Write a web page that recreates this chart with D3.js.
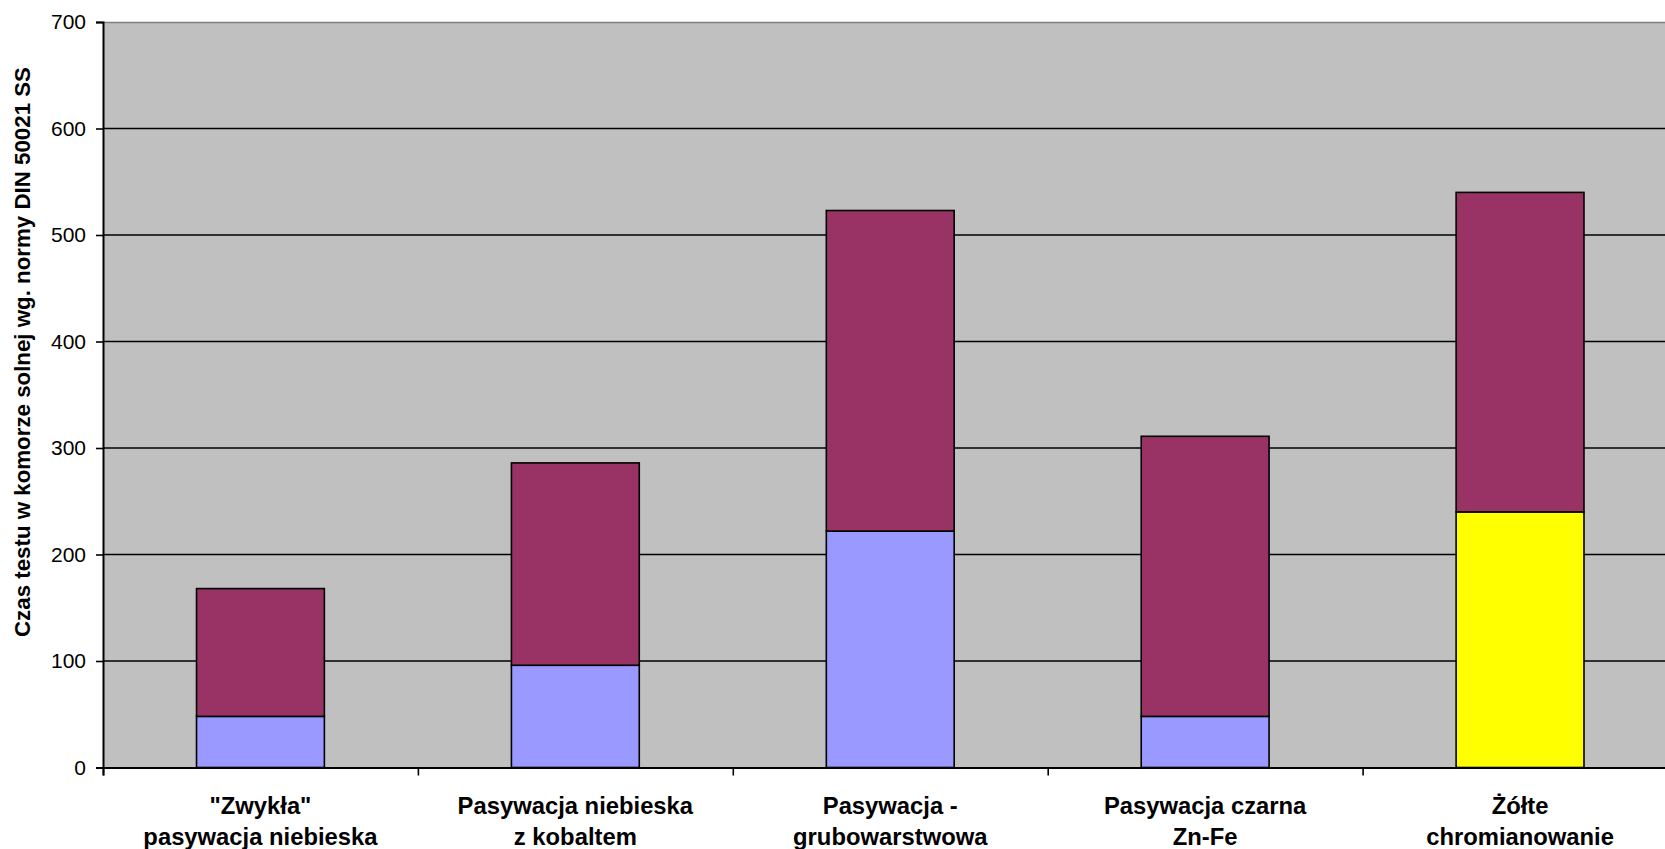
<!DOCTYPE html>
<html lang="pl">
<head>
<meta charset="utf-8">
<script src="https://cdn.jsdelivr.net/npm/d3@7"></script>
<style>
  html, body { margin: 0; padding: 0; background: #ffffff; }
  svg { display: block; font-family: "Liberation Sans", Arial, sans-serif; }
</style>
</head>
<body>
<svg id="chart" width="1665" height="849"></svg>
<script>
// Coating types (two-line category labels)
const categories = [
  ['"Zwykła"', 'pasywacja niebieska'],
  ['Pasywacja niebieska', 'z kobaltem'],
  ['Pasywacja -', 'grubowarstwowa'],
  ['Pasywacja czarna', 'Zn-Fe'],
  ['Żółte', 'chromianowanie']
];
// Hours until first corrosion of the coating, and further hours until red rust
const coatingHours = [48, 96, 222, 48, 240];
const zincHours = [120, 190, 301, 263, 300];
const yTicks = [0, 100, 200, 300, 400, 500, 600, 700];
const yTitle = "Czas testu w komorze solnej wg. normy DIN 50021 SS";

// Fill colours
const coatingFill = ["#9999FF", "#9999FF", "#9999FF", "#9999FF", "#FFFF00"];
const zincFill = "#993366";

const svg = d3.select("#chart");
const margin = { left: 103, top: 22 };
const plotW = 1574.5, plotH = 745.5;

const rows = categories.map((c, i) => ({ idx: i, coating: coatingHours[i], zinc: zincHours[i] }));
const stacked = d3.stack().keys(["coating", "zinc"])(rows);

const x = d3.scaleBand().domain(d3.range(categories.length))
  .range([0, plotW]).paddingInner(0.594).paddingOuter(0.297);
const xEdges = d3.scaleLinear().domain([0, categories.length]).range([0, plotW]);
const y = d3.scaleLinear().domain([0, 700]).range([plotH, 0]);

const g = svg.append("g").attr("transform", `translate(${margin.left},${margin.top})`);

// Plot area
g.append("rect").attr("x", 0).attr("y", 0).attr("width", plotW).attr("height", plotH)
  .attr("fill", "#C0C0C0");
g.append("line").attr("x1", 0).attr("x2", plotW).attr("y1", 0.5).attr("y2", 0.5)
  .attr("stroke", "#808080").attr("stroke-width", 1.5);

// Horizontal gridlines
g.append("g").selectAll("line").data(yTicks.filter(t => t > 0 && t < 700)).join("line")
  .attr("x1", 0).attr("x2", plotW)
  .attr("y1", d => y(d)).attr("y2", d => y(d))
  .attr("stroke", "#000").attr("stroke-width", 1.6);

// Stacked bars
stacked.forEach(series => {
  g.append("g").selectAll("rect").data(series).join("rect")
    .attr("x", d => x(d.data.idx))
    .attr("width", x.bandwidth())
    .attr("y", d => y(d[1]))
    .attr("height", d => y(d[0]) - y(d[1]))
    .attr("fill", d => series.key === "coating" ? coatingFill[d.data.idx] : zincFill)
    .attr("stroke", "#000").attr("stroke-width", 1.6);
});

// Y axis
const yAxis = g.append("g")
  .call(d3.axisLeft(y).tickValues(yTicks).tickSize(7).tickPadding(10).tickFormat(d3.format("d")));
yAxis.select(".domain").attr("stroke", "#000").attr("stroke-width", 2);
yAxis.selectAll(".tick line").attr("stroke", "#000").attr("stroke-width", 1.6);
yAxis.selectAll(".tick text").attr("font-size", 21).attr("fill", "#000")
  .attr("font-family", "Liberation Sans, Arial, sans-serif");

// X axis with ticks at category boundaries
const xAxis = g.append("g").attr("transform", `translate(0,${plotH})`)
  .call(d3.axisBottom(xEdges).tickValues(d3.range(categories.length + 1)).tickSize(8).tickFormat(""));
xAxis.select(".domain").attr("stroke", "#000").attr("stroke-width", 2);
xAxis.selectAll(".tick line").attr("stroke", "#000").attr("stroke-width", 1.6);

// Category labels
const labels = g.append("g").selectAll("text").data(categories).join("text")
  .attr("x", (d, i) => x(i) + x.bandwidth() / 2)
  .attr("y", plotH + 46)
  .attr("text-anchor", "middle")
  .attr("font-size", 23.8).attr("font-weight", "bold").attr("fill", "#000");
labels.selectAll("tspan").data(d => d).join("tspan")
  .attr("x", function () { return d3.select(this.parentNode).attr("x"); })
  .attr("dy", (d, i) => i === 0 ? 0 : 31)
  .text(d => d);

// Y axis title
svg.append("text")
  .attr("transform", `translate(30,352) rotate(-90)`)
  .attr("text-anchor", "middle")
  .attr("font-size", 22.3).attr("font-weight", "bold").attr("fill", "#000")
  .text(yTitle);
</script>
</body>
</html>
